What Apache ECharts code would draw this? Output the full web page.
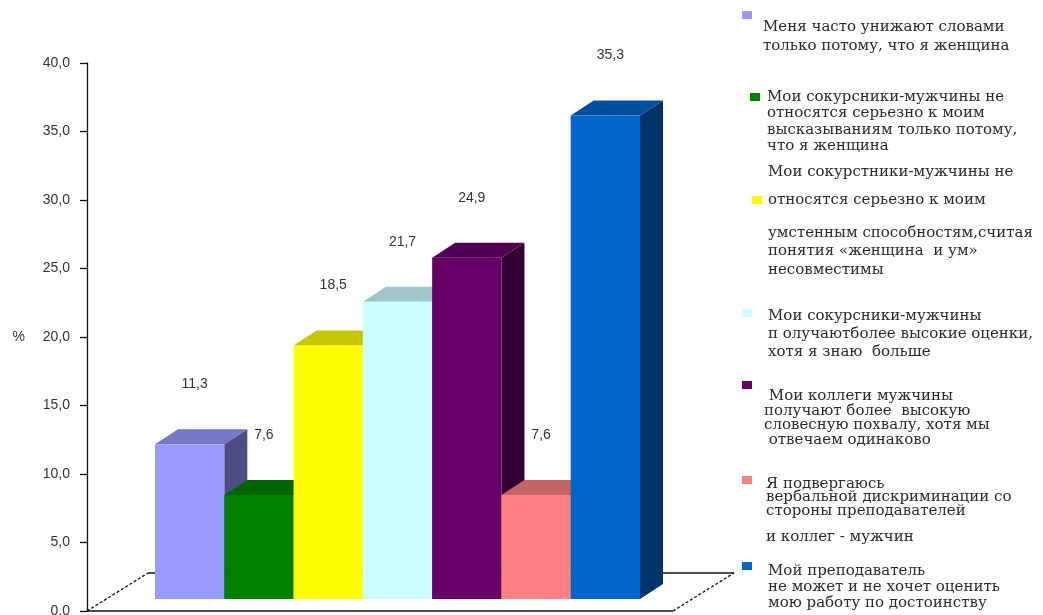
<!DOCTYPE html>
<html><head><meta charset="utf-8">
<script src="https://cdn.jsdelivr.net/npm/echarts@6/dist/echarts.min.js"></script>
<style>html,body{margin:0;padding:0;background:#fff}#c{width:1043px;height:615px}</style>
</head><body><div id="c"></div>
<script>
// ---- data ----
const legendLines = [
  ['Меня часто унижают словами', 'только потому, что я женщина'],
  ['Мои сокурсники-мужчины не', 'относятся серьезно к моим', 'высказываниям только потому,', 'что я женщина'],
  ['Мои сокурстники-мужчины не', 'относятся серьезно к моим', 'умстенным способностям,считая', 'понятия «женщина  и ум»', 'несовместимы'],
  ['Мои сокурсники-мужчины', 'п олучаютболее высокие оценки,', 'хотя я знаю  больше'],
  [' Мои коллеги мужчины', 'получают более  высокую', 'словесную похвалу, хотя мы', ' отвечаем одинаково'],
  ['Я подвергаюсь', 'вербальной дискриминации со', 'стороны преподавателей', 'и коллег - мужчин'],
  ['Мой преподаватель', 'не может и не хочет оценить', 'мою работу по достоинству']
];
const seriesNames = legendLines.map(l => l.map(s => s.trim()).join(' '));
const values = [11.3, 7.6, 18.5, 21.7, 24.9, 7.6, 35.3];
const colors = ['#9999FF', '#008000', '#FFFF00', '#CCFFFF', '#660066', '#FF8080', '#0066CC'];
const yMin = 0, yMax = 40, yInterval = 5;
const axisName = '%';

// ---- layout ----
const LAYOUT = {
  gridLeft: 136, gridTop: 63, gridWidth: 485, gridBottom: 4,
  axisOffset: 49, barShift: [19, -12], topDepth: [23, -15],
  floorDepth: [61, -38], floorRightExtra: 52, labelAbove: 60, labelShiftX: 5
};
const LEGEND_POS = [
  {icon: [742, 11], textX: 763, ys: [27, 46]},
  {icon: [750, 93], textX: 767, ys: [97, 113, 130, 146]},
  {icon: [752, 196], textX: 768, ys: [172, 200, 233, 251, 270]},
  {icon: [742, 309], textX: 768, ys: [316, 334, 352]},
  {icon: [742, 381], textX: 764, ys: [396, 411, 425, 440]},
  {icon: [742, 476], textX: 766, ys: [484, 497, 511, 537]},
  {icon: [742, 562], textX: 768, ys: [571, 587, 603]}
];
const LEG_FONT = 'DejaVu Serif', LEG_FS = 15, LEG_BASE = 13, ICON_W = 10, ICON_H = 8;
const SANS = '"Liberation Sans", Arial, sans-serif';
const LABEL_FS = 14;

function shade(hex, f) {
  const n = parseInt(hex.slice(1), 16);
  const r = Math.round(((n >> 16) & 255) * f), g = Math.round(((n >> 8) & 255) * f), b = Math.round((n & 255) * f);
  return 'rgb(' + r + ',' + g + ',' + b + ')';
}
function fmt(v) { return v.toFixed(1).replace('.', ','); }

function barRender(params, api) {
  const idx = api.value(0), v = api.value(1);
  const p0 = api.coord([idx, 0]), p1 = api.coord([idx, v]);
  const bw = api.size([1, 0])[0];
  const col = colors[params.seriesIndex];
  const x0 = p0[0] - bw / 2 + LAYOUT.barShift[0], x1 = x0 + bw;
  const yb = p0[1] + LAYOUT.barShift[1], yt = p1[1] + LAYOUT.barShift[1];
  const dx = LAYOUT.topDepth[0], dy = LAYOUT.topDepth[1];
  return {type: 'group', children: [
    {type: 'polygon', shape: {points: [[x1, yt], [x1 + dx, yt + dy], [x1 + dx, yb + dy], [x1, yb]]}, style: {fill: shade(col, 0.5)}},
    {type: 'polygon', shape: {points: [[x0, yt], [x1, yt], [x1 + dx, yt + dy], [x0 + dx, yt + dy]]}, style: {fill: shade(col, 0.78)}},
    {type: 'rect', shape: {x: x0, y: yt, width: bw, height: yb - yt}, style: {fill: col}},
    {type: 'text', style: {text: fmt(v), x: (x0 + x1) / 2 + LAYOUT.labelShiftX, y: yt - LAYOUT.labelAbove, align: 'center', verticalAlign: 'middle', fill: '#333', font: LABEL_FS + 'px ' + SANS}}
  ]};
}

function floorRender(params, api) {
  const cs = params.coordSys;
  const fy = cs.y + cs.height;
  const xl = cs.x - LAYOUT.axisOffset, xr = cs.x + cs.width + LAYOUT.floorRightExtra;
  const fdx = LAYOUT.floorDepth[0], fdy = LAYOUT.floorDepth[1];
  const solid = {stroke: '#111', lineWidth: 1.3, fill: null};
  const dashed = {stroke: '#111', lineWidth: 1.3, fill: null, lineDash: [3, 2]};
  return {type: 'group', children: [
    {type: 'line', shape: {x1: xl + fdx, y1: fy + fdy, x2: xr + fdx, y2: fy + fdy}, style: solid},
    {type: 'line', shape: {x1: xl, y1: fy, x2: xl + fdx, y2: fy + fdy}, style: dashed},
    {type: 'line', shape: {x1: xr, y1: fy, x2: xr + fdx, y2: fy + fdy}, style: dashed},
    {type: 'line', shape: {x1: xl, y1: fy, x2: xr, y2: fy}, style: solid}
  ]};
}

// legends: one per entry
const legends = legendLines.map((lines, k) => {
  const pos = LEGEND_POS[k];
  const rich = {t: {fontSize: LEG_FS, fontFamily: LEG_FONT, color: '#2a2a2a', lineHeight: LEG_BASE}};
  const parts = [];
  let H = 0;
  lines.forEach((ln, i) => {
    parts.push('{t|' + ln + '}');
    H += LEG_BASE;
    if (i < lines.length - 1) {
      const gap = pos.ys[i + 1] - pos.ys[i] - LEG_BASE;
      if (gap > 0) {
        rich['s' + i] = {fontSize: 1, lineHeight: gap};
        parts.push('{s' + i + '| }');
        H += gap;
      }
    }
  });
  const c = pos.icon[1] + ICON_H / 2;
  const delta = (pos.ys[0] - c) - (-H / 2 + LEG_BASE / 2);
  const padTop = delta > 0 ? 2 * delta : 0, padBottom = delta < 0 ? -2 * delta : 0;
  const padLeft = pos.textX - pos.icon[0] - ICON_W - 5;
  const Hp = H + padTop + padBottom;
  const topRel = Math.min(-Hp / 2, -ICON_H / 2);
  const text = parts.join('\n');
  return {
    data: [seriesNames[k]], left: pos.icon[0], top: c + topRel, padding: 0,
    orient: 'vertical', itemWidth: ICON_W, itemHeight: ICON_H, icon: 'rect', selectedMode: false,
    formatter: () => text,
    textStyle: {rich: rich, padding: [padTop, 0, padBottom, padLeft], backgroundColor: 'transparent', fontSize: LEG_FS, fontFamily: LEG_FONT, color: '#2a2a2a'}
  };
});

const series = values.map((v, i) => ({
  type: 'custom', name: seriesNames[i], renderItem: barRender, clip: false, z: 3,
  itemStyle: {color: colors[i]},
  data: [[i, v]],
  encode: {x: 0, y: 1}
}));
series.push({type: 'custom', name: 'floor', renderItem: floorRender, clip: false, z: 1, silent: true, data: [[0, 0]], encode: {x: 0, y: 1}});

const chart = echarts.init(document.getElementById('c'), null, {renderer: 'canvas'});
chart.setOption({
  animation: false,
  backgroundColor: '#fff',
  color: colors,
  grid: {left: LAYOUT.gridLeft, top: LAYOUT.gridTop, width: LAYOUT.gridWidth, bottom: LAYOUT.gridBottom, containLabel: false, outerBoundsMode: 'none'},
  xAxis: {type: 'category', data: seriesNames.map((_, i) => i), boundaryGap: true, show: false},
  yAxis: {
    type: 'value', min: yMin, max: yMax, interval: yInterval, offset: LAYOUT.axisOffset,
    name: axisName, nameLocation: 'middle', nameRotate: 0, nameGap: 62,
    nameTextStyle: {color: '#333', fontSize: LABEL_FS, fontFamily: SANS},
    axisLine: {show: true, lineStyle: {color: '#111', width: 1.3}},
    axisTick: {show: true, length: 7, inside: false, lineStyle: {color: '#111', width: 1.3}},
    axisLabel: {margin: 17, color: '#333', fontSize: LABEL_FS, fontFamily: SANS, formatter: v => fmt(v)},
    splitLine: {show: false}
  },
  legend: legends,
  series: series
});
</script>
</body></html>
